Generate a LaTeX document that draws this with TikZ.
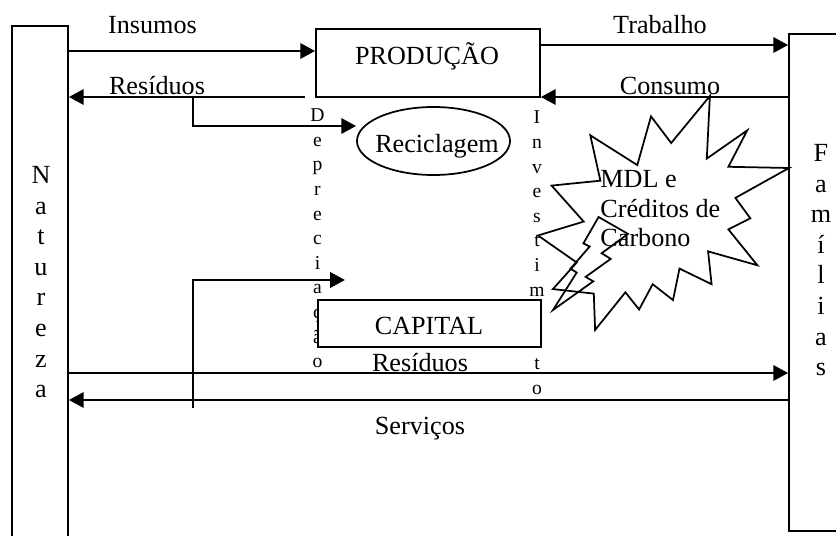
\documentclass[tikz,border=0pt]{standalone}
\usepackage{fontspec}
\setmainfont{Liberation Serif}
\usetikzlibrary{arrows.meta,positioning,calc,shapes.geometric}
\newcommand{\pxu}{0.4587pt}

\begin{document}
\begin{tikzpicture}[
      x=\pxu, y=-\pxu,
      mybox/.style={
         rectangle,
         draw=black,
         fill=white,
         line width=0.8pt,
         inner sep=0pt},
      mytext/.style={
         inner sep=0pt,
         font=\fontsize{12}{14}\selectfont},
      vtext/.style={
         inner sep=0pt,
         align=center},
      myarrow/.style={-{Triangle[length=6.8pt,width=7pt]},line width=1.2pt},
      burst/.style={draw=black,line width=0.8pt,line join=miter}
      ]
      \useasboundingbox (0,0) rectangle (836,536);
      \clip (0,0) rectangle (836,536);

      % side boxes
      \node[mybox,minimum width=56*\pxu,minimum height=560*\pxu] (nat) at (40,306) {};
      \node[mybox,minimum width=80*\pxu,minimum height=497*\pxu] (fam) at (829,282.5) {};
      \node[mybox,minimum width=224*\pxu,minimum height=68*\pxu] (prod) at (428,63) {};
      \node[draw=black,ellipse,line width=0.8pt,inner sep=0pt,
            minimum width=153*\pxu,minimum height=68*\pxu] (rec) at (433.5,141) {};

      \coordinate (resfrom) at (305,97);
      \coordinate (resbranch) at (193,97);
      \coordinate (depfoot) at (193,408);
      \coordinate (deptip) at (345,280);

    \foreach \i/\j/\y in {% start/end/row
      nat.east/prod.west/51,
      prod.east/fam.west/45,
      resfrom/nat.east/97,
      fam.west/prod.east/97,
      nat.east/fam.west/373,
      fam.west/nat.east/400}
       \draw[myarrow] (\i |- 0,\y) -- (\j |- 0,\y);

      \draw[myarrow] (resbranch) |- (rec.west |- 0,126);
      \draw[myarrow] (depfoot) |- (deptip);

      % MDL burst
      \draw[burst,fill=white] (671.2,143.0) -- (651.0,116.4) -- (637.3,165.1)
         -- (590.3,135.3) -- (600.4,180.7) -- (551.6,185.6) -- (583.7,221.6)
         -- (538,235.5) -- (576.7,262.5) -- (552.9,289.1) -- (593.8,293.6)
         -- (595.1,330) -- (625.4,292.3) -- (639.1,309.5) -- (652.7,284.2)
         -- (673.0,300.1) -- (679.5,268.6) -- (711.6,284.2) -- (708.1,251.4)
         -- (757.4,265.3) -- (728.4,229.4) -- (750.3,218.3) -- (735.4,197.9)
         -- (789,168.0) -- (728.4,166.8) -- (747.2,130.4) -- (706.8,158.6)
         -- (709.9,96) -- cycle;
      \draw[burst] (598.6,217) -- (628,233.9) -- (601.7,253.2) -- (610.7,258.9)
         -- (585.6,276.9) -- (593.3,281.3) -- (553,310) -- (576.7,272.6)
         -- (570.5,268.7) -- (589.7,246.5) -- (583.4,243.4) -- cycle;

      % vertical words
      \node[vtext,font=\fontsize{12}{14.04}\selectfont] (natlbl) at (41,282.2)
         {N\\a\\t\\u\\r\\e\\z\\a};
      \node[vtext,font=\fontsize{12}{14.04}\selectfont] (famlbl) at (821,260.1)
         {F\\a\\m\\í\\l\\i\\a\\s};
      \node[vtext,font=\fontsize{9}{11.29}\selectfont] (deplbl) at (317.5,238.3)
         {D\\e\\p\\r\\e\\c\\i\\a\\ç\\ã\\o};
      \node[vtext,font=\fontsize{9}{11.29}\selectfont] (invlbl) at (537,252.9)
         {I\\n\\v\\e\\s\\t\\i\\m\\e\\n\\t\\o};

      \node[mybox,minimum width=223*\pxu,minimum height=47*\pxu] (cap) at (429.5,323.5) {};

      % labels
      \node[mytext,anchor=base] (insl) at (152.5,33.5) {Insumos};
      \node[mytext,anchor=base] (trabl) at (660,33.5) {Trabalho};
      \node[mytext,anchor=base] (resl) at (157,95) {Resíduos};
      \node[mytext,anchor=base] (consl) at (670,95) {Consumo};
      \node[mytext,anchor=base] (prodl) at (427,65) {PRODUÇÃO};
      \node[mytext,anchor=base] (recl) at (437,153) {Reciclagem};
      \node[mytext,anchor=base] (capl) at (429,335) {CAPITAL};
      \node[mytext,anchor=base] (res2l) at (420,372) {Resíduos};
      \node[mytext,anchor=base] (servl) at (420,435) {Serviços};
      \node[mytext,align=left,anchor=west,font=\fontsize{12}{13.53}\selectfont]
         (mdl) at (600,209) {MDL e\\Créditos de\\Carbono};

     \end{tikzpicture}
\end{document}
